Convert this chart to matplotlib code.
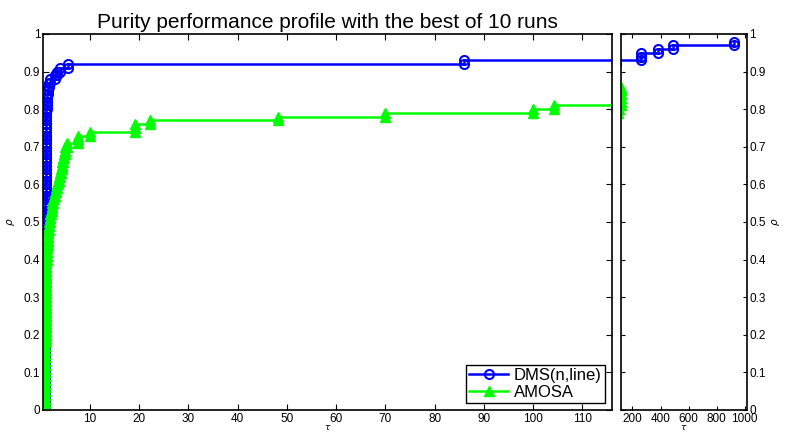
import numpy as np
import matplotlib
matplotlib.use("Agg")
import matplotlib.pyplot as plt

plt.rcParams['font.family'] = ['Liberation Sans', 'DejaVu Sans']

n_problems = 100

# performance ratios reached and the cumulative share of problems solved within them
dms_tau = [1.0, 1.01, 1.02, 1.03, 1.05, 1.07, 1.1, 1.13, 1.17, 1.22, 1.28, 1.35,
           1.45, 1.6, 1.8, 2.0, 3.0, 3.4, 4.0, 5.5, 86, 260, 380, 490, 925]
dms_rho = [0.55, 0.58, 0.62, 0.66, 0.70, 0.73, 0.76, 0.78, 0.80, 0.82, 0.83, 0.84,
           0.85, 0.86, 0.87, 0.88, 0.89, 0.90, 0.91, 0.92, 0.93, 0.95, 0.96, 0.97, 0.98]

amosa_tau = [1.0, 1.02, 1.04, 1.06, 1.08, 1.1, 1.13, 1.16, 1.2, 1.25, 1.3, 1.36,
             1.42, 1.5, 1.6, 1.7, 1.85, 2.0, 2.15, 2.3, 2.5, 2.7, 2.9, 3.1, 3.3,
             3.5, 3.7, 3.9, 4.1, 4.3, 4.5, 4.7, 4.9, 5.3, 7.6, 10.1, 19.2, 22.2,
             48.3, 70, 100, 104.2, 118]
amosa_rho = [0.18, 0.22, 0.26, 0.29, 0.32, 0.34, 0.36, 0.38, 0.40, 0.42, 0.43, 0.44,
             0.45, 0.47, 0.48, 0.50, 0.51, 0.52, 0.53, 0.55, 0.56, 0.57, 0.58, 0.59,
             0.60, 0.61, 0.62, 0.63, 0.64, 0.66, 0.67, 0.68, 0.70, 0.71, 0.73, 0.74,
             0.76, 0.77, 0.78, 0.79, 0.80, 0.81, 0.86]

rho_ticks = np.arange(0, 1.01, 0.1)
rho_labels = ['0', '0.1', '0.2', '0.3', '0.4', '0.5', '0.6', '0.7', '0.8', '0.9', '1']


def stair_points(tau, rho):
    # one ratio per problem, then the corners of the profile staircase
    counts = np.diff(np.concatenate([[0], np.round(np.array(rho) * n_problems)])).astype(int)
    r = np.repeat(tau, counts)
    y = np.arange(1, len(r) + 1) / n_problems
    xs = np.repeat(r, 2)[1:]
    ys = np.repeat(y, 2)[:-1]
    return xs, ys


dms_x, dms_y = stair_points(dms_tau, dms_rho)
amo_x, amo_y = stair_points(amosa_tau, amosa_rho)

fig = plt.figure(figsize=(7.85, 4.37), dpi=100)
ax1 = fig.add_axes([0.0548, 0.0618, 0.7248, 0.8604])
ax2 = fig.add_axes([0.7907, 0.0618, 0.1605, 0.8604])

for ax in (ax1, ax2):
    ax.plot(dms_x, dms_y, '-', color=(0, 0, 1), lw=1.8, marker='o', ms=6.5,
            mfc='none', mec=(0, 0, 1), mew=1.5, label='DMS(n,line)')
    ax.plot(amo_x, amo_y, '-', color=(0, 1, 0), lw=1.8, marker='^', ms=7.5,
            mfc=(0, 1, 0), mec=(0, 1, 0), label='AMOSA')
    ax.set_ylim(0, 1)
    ax.set_yticks(rho_ticks)
    ax.set_yticklabels(rho_labels)
    ax.tick_params(direction='in', top=True, right=True, labelsize=8.5, width=0.8, pad=2)
    for s in ax.spines.values():
        s.set_linewidth(1.2)
    ax.set_xlabel(r'$\tau$', fontsize=6.5, labelpad=-1)

ax1.set_xlim(0.5, 116)
ax1.set_xticks(range(10, 111, 10))
ax1.tick_params(length=4)
ax1.set_ylabel(r'$\rho$', fontsize=7.5, labelpad=5)
ax1.set_title('Purity performance profile with the best of 10 runs', fontsize=15, pad=4)

ax2.set_xlim(116, 1015)
ax2.set_xticks(range(200, 1001, 200))
ax2.tick_params(length=3, labelleft=False, labelright=True)
ax2.yaxis.set_label_position('right')
ax2.set_ylabel(r'$\rho$', fontsize=7.5, labelpad=3)

leg = ax1.legend(loc='lower right', fontsize=12, handlelength=2.35, borderaxespad=0.4,
                 borderpad=0.2, labelspacing=0.1, handletextpad=0.35, fancybox=False,
                 framealpha=1)
leg.get_frame().set_edgecolor('black')
leg.get_frame().set_linewidth(1.0)

fig.savefig('out.png', dpi=100)
